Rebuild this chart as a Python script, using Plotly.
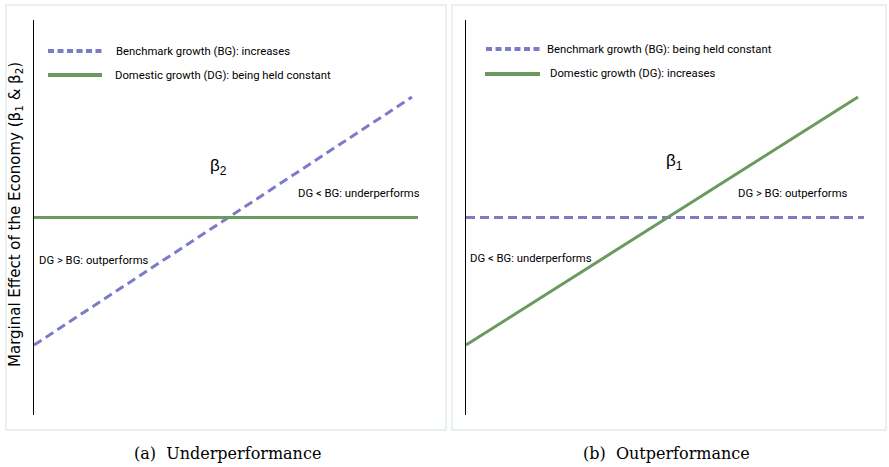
import plotly.graph_objects as go

W, H = 889, 467

# ---- data (schematic marginal effects) ----
x_span = [0.0, 9.45]          # rising line extent, panel (a)
x_flat_a = [0.0, 9.6]         # constant line extent, panel (a)
x_span_b = [0.0, 9.8]         # rising line extent, panel (b)
x_flat_b = [0.0, 9.95]        # constant line extent, panel (b)
y_rising = [1.77, 8.05]       # series that increases
y_constant = [5.0, 5.0]       # series held constant

legend_a = ["Benchmark growth (BG): increases", "Domestic growth (DG): being held constant"]
legend_b = ["Benchmark growth (BG): being held constant", "Domestic growth (DG): increases"]
captions = ["(a)  Underperformance", "(b)  Outperformance"]
y_title = "Marginal Effect of the Economy (β<sub>1</sub> & β<sub>2</sub>)"

BLUE = "#7b7bc8"
GREEN = "#6a9a5e"
NARROW = "Roboto, Liberation Sans, sans-serif"
SERIF = "DejaVu Serif, Liberation Serif, serif"

def px(x):
    return x / W

def py(y):
    return 1 - y / H

fig = go.Figure()

# panel (a)
fig.add_trace(go.Scatter(x=x_span, y=y_rising, mode="lines", xaxis="x", yaxis="y",
                         line=dict(color=BLUE, width=3, dash="9px,5px"), showlegend=False))
fig.add_trace(go.Scatter(x=x_flat_a, y=y_constant, mode="lines", xaxis="x", yaxis="y",
                         line=dict(color=GREEN, width=3), showlegend=False))
# panel (b)
fig.add_trace(go.Scatter(x=x_flat_b, y=y_constant, mode="lines", xaxis="x2", yaxis="y2",
                         line=dict(color=BLUE, width=3, dash="9px,5px"), showlegend=False))
fig.add_trace(go.Scatter(x=x_span_b, y=y_rising, mode="lines", xaxis="x2", yaxis="y2",
                         line=dict(color=GREEN, width=3), showlegend=False))

ydom = [py(415), py(20)]
axis_y = dict(range=[0, 10], domain=ydom, showline=True, linecolor="black", linewidth=1,
              showticklabels=False, ticks="", showgrid=False, zeroline=False, fixedrange=True)
axis_x = dict(range=[0, 10], visible=False, showgrid=False, zeroline=False, fixedrange=True)

fig.update_layout(
    width=W, height=H,
    margin=dict(l=0, r=0, t=0, b=0),
    paper_bgcolor="white", plot_bgcolor="rgba(0,0,0,0)",
    xaxis=dict(axis_x, domain=[px(34), px(434)], anchor="y"),
    yaxis=dict(axis_y, anchor="x"),
    xaxis2=dict(axis_x, domain=[px(466), px(866)], anchor="y2"),
    yaxis2=dict(axis_y, anchor="x2"),
    showlegend=False,
)

shapes = []
# panel frames
shapes.append(dict(type="rect", xref="paper", yref="paper", x0=px(6), x1=px(446), y0=py(430), y1=py(5),
                   line=dict(color="#e2eced", width=1.5), layer="below"))
shapes.append(dict(type="rect", xref="paper", yref="paper", x0=px(452), x1=px(886), y0=py(430), y1=py(5),
                   line=dict(color="#e2eced", width=1.5), layer="below"))
# legend samples
leg = [
    (48, 103, 51, BLUE, "6px,3.5px", 114, legend_a[0]),
    (48, 102, 75, GREEN, "solid", 113, legend_a[1]),
    (486, 540, 49, BLUE, "6px,3.5px", 545, legend_b[0]),
    (485, 540, 74, GREEN, "solid", 548, legend_b[1]),
]
annotations = []
for x0, x1, yy, col, dash, tx, txt in leg:
    shapes.append(dict(type="line", xref="paper", yref="paper", x0=px(x0), x1=px(x1), y0=py(yy), y1=py(yy),
                       line=dict(color=col, width=4, dash=dash)))
    annotations.append(dict(xref="paper", yref="paper", x=px(tx), y=py(yy), text=txt, showarrow=False,
                            xanchor="left", yanchor="middle", font=dict(family=NARROW, size=11.3, color="black")))

# in-panel labels
lab_font = dict(family=NARROW, size=11.3, color="black")
beta_font = dict(family="Liberation Sans, sans-serif", size=17, color="black")
annotations += [
    dict(xref="x", yref="y", x=4.6, y=6.28, text="β<sub>2</sub>", showarrow=False,
         xanchor="center", yanchor="middle", font=beta_font),
    dict(xref="x", yref="y", x=6.55, y=5.62, text="DG < BG: underperforms", showarrow=False,
         xanchor="left", yanchor="middle", font=lab_font),
    dict(xref="x", yref="y", x=0.08, y=3.92, text="DG > BG: outperforms", showarrow=False,
         xanchor="left", yanchor="middle", font=lab_font),
    dict(xref="x2", yref="y2", x=5.22, y=6.41, text="β<sub>1</sub>", showarrow=False,
         xanchor="center", yanchor="middle", font=beta_font),
    dict(xref="x2", yref="y2", x=6.75, y=5.62, text="DG > BG: outperforms", showarrow=False,
         xanchor="left", yanchor="middle", font=lab_font),
    dict(xref="x2", yref="y2", x=0.05, y=3.95, text="DG < BG: underperforms", showarrow=False,
         xanchor="left", yanchor="middle", font=lab_font),
]
# y-axis title
annotations.append(dict(xref="paper", yref="paper", x=px(16), y=py(215), text=y_title, textangle=-90,
                        xanchor="center", yanchor="middle", showarrow=False,
                        font=dict(family="DejaVu Sans, Liberation Sans, sans-serif", size=15, color="black")))
# captions
annotations.append(dict(xref="paper", yref="paper", x=px(227), y=py(453), text=captions[0], showarrow=False,
                        xanchor="center", yanchor="middle", font=dict(family=SERIF, size=16, color="black")))
annotations.append(dict(xref="paper", yref="paper", x=px(666), y=py(453), text=captions[1], showarrow=False,
                        xanchor="center", yanchor="middle", font=dict(family=SERIF, size=16, color="black")))

fig.update_layout(shapes=shapes, annotations=annotations)
fig.write_html("out.html", config={"displayModeBar": False},
               post_script="document.body.style.margin='0';")
